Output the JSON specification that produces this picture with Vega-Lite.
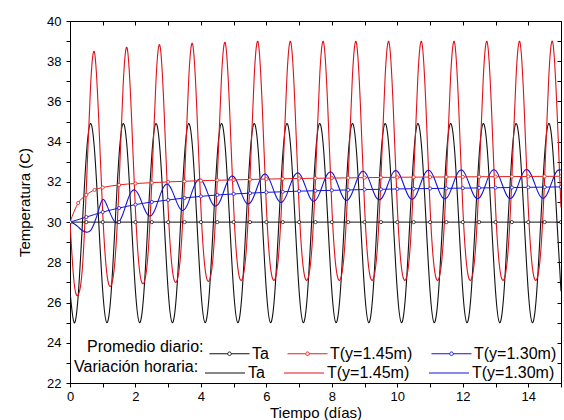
{
"$schema":"https://vega.github.io/schema/vega-lite/v6.json",
"width":491,"height":362,
"autosize":{"type":"none"},
"padding":{"left":70,"top":21,"right":3,"bottom":37},
"background":"white",
"config":{"view":{"stroke":"black","strokeWidth":1},"font":"Liberation Sans",
"axis":{"labelFont":"Liberation Sans","labelFontSize":13,"labelColor":"#000","titleFont":"Liberation Sans","titleFontSize":15,"titleFontWeight":"normal","titleColor":"#000","domainColor":"#000","tickColor":"#000","grid":false}},
"datasets":{
"hourly":[
{"t":0,"v":26.56,"s":"Ta"},{"t":0.125,"v":25.0,"s":"Ta"},{"t":0.25,"v":26.34,"s":"Ta"},{"t":0.375,"v":29.8,"s":"Ta"},{"t":0.5,"v":33.34,"s":"Ta"},{"t":0.625,"v":34.9,"s":"Ta"},{"t":0.75,"v":33.56,"s":"Ta"},{"t":0.875,"v":30.1,"s":"Ta"},
{"t":1,"v":26.56,"s":"Ta"},{"t":1.125,"v":25.0,"s":"Ta"},{"t":1.25,"v":26.34,"s":"Ta"},{"t":1.375,"v":29.8,"s":"Ta"},{"t":1.5,"v":33.34,"s":"Ta"},{"t":1.625,"v":34.9,"s":"Ta"},{"t":1.75,"v":33.56,"s":"Ta"},{"t":1.875,"v":30.1,"s":"Ta"},
{"t":2,"v":26.56,"s":"Ta"},{"t":2.125,"v":25.0,"s":"Ta"},{"t":2.25,"v":26.34,"s":"Ta"},{"t":2.375,"v":29.8,"s":"Ta"},{"t":2.5,"v":33.34,"s":"Ta"},{"t":2.625,"v":34.9,"s":"Ta"},{"t":2.75,"v":33.56,"s":"Ta"},{"t":2.875,"v":30.1,"s":"Ta"},
{"t":3,"v":26.56,"s":"Ta"},{"t":3.125,"v":25.0,"s":"Ta"},{"t":3.25,"v":26.34,"s":"Ta"},{"t":3.375,"v":29.8,"s":"Ta"},{"t":3.5,"v":33.34,"s":"Ta"},{"t":3.625,"v":34.9,"s":"Ta"},{"t":3.75,"v":33.56,"s":"Ta"},{"t":3.875,"v":30.1,"s":"Ta"},
{"t":4,"v":26.56,"s":"Ta"},{"t":4.125,"v":25.0,"s":"Ta"},{"t":4.25,"v":26.34,"s":"Ta"},{"t":4.375,"v":29.8,"s":"Ta"},{"t":4.5,"v":33.34,"s":"Ta"},{"t":4.625,"v":34.9,"s":"Ta"},{"t":4.75,"v":33.56,"s":"Ta"},{"t":4.875,"v":30.1,"s":"Ta"},
{"t":5,"v":26.56,"s":"Ta"},{"t":5.125,"v":25.0,"s":"Ta"},{"t":5.25,"v":26.34,"s":"Ta"},{"t":5.375,"v":29.8,"s":"Ta"},{"t":5.5,"v":33.34,"s":"Ta"},{"t":5.625,"v":34.9,"s":"Ta"},{"t":5.75,"v":33.56,"s":"Ta"},{"t":5.875,"v":30.1,"s":"Ta"},
{"t":6,"v":26.56,"s":"Ta"},{"t":6.125,"v":25.0,"s":"Ta"},{"t":6.25,"v":26.34,"s":"Ta"},{"t":6.375,"v":29.8,"s":"Ta"},{"t":6.5,"v":33.34,"s":"Ta"},{"t":6.625,"v":34.9,"s":"Ta"},{"t":6.75,"v":33.56,"s":"Ta"},{"t":6.875,"v":30.1,"s":"Ta"},
{"t":7,"v":26.56,"s":"Ta"},{"t":7.125,"v":25.0,"s":"Ta"},{"t":7.25,"v":26.34,"s":"Ta"},{"t":7.375,"v":29.8,"s":"Ta"},{"t":7.5,"v":33.34,"s":"Ta"},{"t":7.625,"v":34.9,"s":"Ta"},{"t":7.75,"v":33.56,"s":"Ta"},{"t":7.875,"v":30.1,"s":"Ta"},
{"t":8,"v":26.56,"s":"Ta"},{"t":8.125,"v":25.0,"s":"Ta"},{"t":8.25,"v":26.34,"s":"Ta"},{"t":8.375,"v":29.8,"s":"Ta"},{"t":8.5,"v":33.34,"s":"Ta"},{"t":8.625,"v":34.9,"s":"Ta"},{"t":8.75,"v":33.56,"s":"Ta"},{"t":8.875,"v":30.1,"s":"Ta"},
{"t":9,"v":26.56,"s":"Ta"},{"t":9.125,"v":25.0,"s":"Ta"},{"t":9.25,"v":26.34,"s":"Ta"},{"t":9.375,"v":29.8,"s":"Ta"},{"t":9.5,"v":33.34,"s":"Ta"},{"t":9.625,"v":34.9,"s":"Ta"},{"t":9.75,"v":33.56,"s":"Ta"},{"t":9.875,"v":30.1,"s":"Ta"},
{"t":10,"v":26.56,"s":"Ta"},{"t":10.125,"v":25.0,"s":"Ta"},{"t":10.25,"v":26.34,"s":"Ta"},{"t":10.375,"v":29.8,"s":"Ta"},{"t":10.5,"v":33.34,"s":"Ta"},{"t":10.625,"v":34.9,"s":"Ta"},{"t":10.75,"v":33.56,"s":"Ta"},{"t":10.875,"v":30.1,"s":"Ta"},
{"t":11,"v":26.56,"s":"Ta"},{"t":11.125,"v":25.0,"s":"Ta"},{"t":11.25,"v":26.34,"s":"Ta"},{"t":11.375,"v":29.8,"s":"Ta"},{"t":11.5,"v":33.34,"s":"Ta"},{"t":11.625,"v":34.9,"s":"Ta"},{"t":11.75,"v":33.56,"s":"Ta"},{"t":11.875,"v":30.1,"s":"Ta"},
{"t":12,"v":26.56,"s":"Ta"},{"t":12.125,"v":25.0,"s":"Ta"},{"t":12.25,"v":26.34,"s":"Ta"},{"t":12.375,"v":29.8,"s":"Ta"},{"t":12.5,"v":33.34,"s":"Ta"},{"t":12.625,"v":34.9,"s":"Ta"},{"t":12.75,"v":33.56,"s":"Ta"},{"t":12.875,"v":30.1,"s":"Ta"},
{"t":13,"v":26.56,"s":"Ta"},{"t":13.125,"v":25.0,"s":"Ta"},{"t":13.25,"v":26.34,"s":"Ta"},{"t":13.375,"v":29.8,"s":"Ta"},{"t":13.5,"v":33.34,"s":"Ta"},{"t":13.625,"v":34.9,"s":"Ta"},{"t":13.75,"v":33.56,"s":"Ta"},{"t":13.875,"v":30.1,"s":"Ta"},
{"t":14,"v":26.56,"s":"Ta"},{"t":14.125,"v":25.0,"s":"Ta"},{"t":14.25,"v":26.34,"s":"Ta"},{"t":14.375,"v":29.8,"s":"Ta"},{"t":14.5,"v":33.34,"s":"Ta"},{"t":14.625,"v":34.9,"s":"Ta"},{"t":14.75,"v":33.56,"s":"Ta"},{"t":14.875,"v":30.1,"s":"Ta"},
{"t":15,"v":26.56,"s":"Ta"},
{"t":0,"v":30.0,"s":"T(y=1.45m)"},{"t":0.125,"v":27.0,"s":"T(y=1.45m)"},{"t":0.25,"v":26.38,"s":"T(y=1.45m)"},{"t":0.375,"v":27.65,"s":"T(y=1.45m)"},{"t":0.5,"v":31.71,"s":"T(y=1.45m)"},{"t":0.625,"v":36.65,"s":"T(y=1.45m)"},{"t":0.75,"v":38.43,"s":"T(y=1.45m)"},{"t":0.875,"v":35.2,"s":"T(y=1.45m)"},
{"t":1,"v":30.43,"s":"T(y=1.45m)"},{"t":1.125,"v":27.45,"s":"T(y=1.45m)"},{"t":1.25,"v":26.83,"s":"T(y=1.45m)"},{"t":1.375,"v":28.1,"s":"T(y=1.45m)"},{"t":1.5,"v":31.91,"s":"T(y=1.45m)"},{"t":1.625,"v":36.85,"s":"T(y=1.45m)"},{"t":1.75,"v":38.63,"s":"T(y=1.45m)"},{"t":1.875,"v":35.4,"s":"T(y=1.45m)"},
{"t":2,"v":30.56,"s":"T(y=1.45m)"},{"t":2.125,"v":27.58,"s":"T(y=1.45m)"},{"t":2.25,"v":26.96,"s":"T(y=1.45m)"},{"t":2.375,"v":28.23,"s":"T(y=1.45m)"},{"t":2.5,"v":32.04,"s":"T(y=1.45m)"},{"t":2.625,"v":36.98,"s":"T(y=1.45m)"},{"t":2.75,"v":38.76,"s":"T(y=1.45m)"},{"t":2.875,"v":35.53,"s":"T(y=1.45m)"},
{"t":3,"v":30.63,"s":"T(y=1.45m)"},{"t":3.125,"v":27.65,"s":"T(y=1.45m)"},{"t":3.25,"v":27.03,"s":"T(y=1.45m)"},{"t":3.375,"v":28.3,"s":"T(y=1.45m)"},{"t":3.5,"v":32.11,"s":"T(y=1.45m)"},{"t":3.625,"v":37.05,"s":"T(y=1.45m)"},{"t":3.75,"v":38.83,"s":"T(y=1.45m)"},{"t":3.875,"v":35.6,"s":"T(y=1.45m)"},
{"t":4,"v":30.68,"s":"T(y=1.45m)"},{"t":4.125,"v":27.7,"s":"T(y=1.45m)"},{"t":4.25,"v":27.08,"s":"T(y=1.45m)"},{"t":4.375,"v":28.35,"s":"T(y=1.45m)"},{"t":4.5,"v":32.16,"s":"T(y=1.45m)"},{"t":4.625,"v":37.1,"s":"T(y=1.45m)"},{"t":4.75,"v":38.88,"s":"T(y=1.45m)"},{"t":4.875,"v":35.65,"s":"T(y=1.45m)"},
{"t":5,"v":30.73,"s":"T(y=1.45m)"},{"t":5.125,"v":27.75,"s":"T(y=1.45m)"},{"t":5.25,"v":27.13,"s":"T(y=1.45m)"},{"t":5.375,"v":28.4,"s":"T(y=1.45m)"},{"t":5.5,"v":32.21,"s":"T(y=1.45m)"},{"t":5.625,"v":37.15,"s":"T(y=1.45m)"},{"t":5.75,"v":38.93,"s":"T(y=1.45m)"},{"t":5.875,"v":35.7,"s":"T(y=1.45m)"},
{"t":6,"v":30.73,"s":"T(y=1.45m)"},{"t":6.125,"v":27.75,"s":"T(y=1.45m)"},{"t":6.25,"v":27.13,"s":"T(y=1.45m)"},{"t":6.375,"v":28.4,"s":"T(y=1.45m)"},{"t":6.5,"v":32.21,"s":"T(y=1.45m)"},{"t":6.625,"v":37.15,"s":"T(y=1.45m)"},{"t":6.75,"v":38.93,"s":"T(y=1.45m)"},{"t":6.875,"v":35.7,"s":"T(y=1.45m)"},
{"t":7,"v":30.73,"s":"T(y=1.45m)"},{"t":7.125,"v":27.75,"s":"T(y=1.45m)"},{"t":7.25,"v":27.13,"s":"T(y=1.45m)"},{"t":7.375,"v":28.4,"s":"T(y=1.45m)"},{"t":7.5,"v":32.21,"s":"T(y=1.45m)"},{"t":7.625,"v":37.15,"s":"T(y=1.45m)"},{"t":7.75,"v":38.93,"s":"T(y=1.45m)"},{"t":7.875,"v":35.7,"s":"T(y=1.45m)"},
{"t":8,"v":30.73,"s":"T(y=1.45m)"},{"t":8.125,"v":27.75,"s":"T(y=1.45m)"},{"t":8.25,"v":27.13,"s":"T(y=1.45m)"},{"t":8.375,"v":28.4,"s":"T(y=1.45m)"},{"t":8.5,"v":32.21,"s":"T(y=1.45m)"},{"t":8.625,"v":37.15,"s":"T(y=1.45m)"},{"t":8.75,"v":38.93,"s":"T(y=1.45m)"},{"t":8.875,"v":35.7,"s":"T(y=1.45m)"},
{"t":9,"v":30.73,"s":"T(y=1.45m)"},{"t":9.125,"v":27.75,"s":"T(y=1.45m)"},{"t":9.25,"v":27.13,"s":"T(y=1.45m)"},{"t":9.375,"v":28.4,"s":"T(y=1.45m)"},{"t":9.5,"v":32.21,"s":"T(y=1.45m)"},{"t":9.625,"v":37.15,"s":"T(y=1.45m)"},{"t":9.75,"v":38.93,"s":"T(y=1.45m)"},{"t":9.875,"v":35.7,"s":"T(y=1.45m)"},
{"t":10,"v":30.73,"s":"T(y=1.45m)"},{"t":10.125,"v":27.75,"s":"T(y=1.45m)"},{"t":10.25,"v":27.13,"s":"T(y=1.45m)"},{"t":10.375,"v":28.4,"s":"T(y=1.45m)"},{"t":10.5,"v":32.21,"s":"T(y=1.45m)"},{"t":10.625,"v":37.15,"s":"T(y=1.45m)"},{"t":10.75,"v":38.93,"s":"T(y=1.45m)"},{"t":10.875,"v":35.7,"s":"T(y=1.45m)"},
{"t":11,"v":30.73,"s":"T(y=1.45m)"},{"t":11.125,"v":27.75,"s":"T(y=1.45m)"},{"t":11.25,"v":27.13,"s":"T(y=1.45m)"},{"t":11.375,"v":28.4,"s":"T(y=1.45m)"},{"t":11.5,"v":32.21,"s":"T(y=1.45m)"},{"t":11.625,"v":37.15,"s":"T(y=1.45m)"},{"t":11.75,"v":38.93,"s":"T(y=1.45m)"},{"t":11.875,"v":35.7,"s":"T(y=1.45m)"},
{"t":12,"v":30.73,"s":"T(y=1.45m)"},{"t":12.125,"v":27.75,"s":"T(y=1.45m)"},{"t":12.25,"v":27.13,"s":"T(y=1.45m)"},{"t":12.375,"v":28.4,"s":"T(y=1.45m)"},{"t":12.5,"v":32.21,"s":"T(y=1.45m)"},{"t":12.625,"v":37.15,"s":"T(y=1.45m)"},{"t":12.75,"v":38.93,"s":"T(y=1.45m)"},{"t":12.875,"v":35.7,"s":"T(y=1.45m)"},
{"t":13,"v":30.73,"s":"T(y=1.45m)"},{"t":13.125,"v":27.75,"s":"T(y=1.45m)"},{"t":13.25,"v":27.13,"s":"T(y=1.45m)"},{"t":13.375,"v":28.4,"s":"T(y=1.45m)"},{"t":13.5,"v":32.21,"s":"T(y=1.45m)"},{"t":13.625,"v":37.15,"s":"T(y=1.45m)"},{"t":13.75,"v":38.93,"s":"T(y=1.45m)"},{"t":13.875,"v":35.7,"s":"T(y=1.45m)"},
{"t":14,"v":30.73,"s":"T(y=1.45m)"},{"t":14.125,"v":27.75,"s":"T(y=1.45m)"},{"t":14.25,"v":27.13,"s":"T(y=1.45m)"},{"t":14.375,"v":28.4,"s":"T(y=1.45m)"},{"t":14.5,"v":32.21,"s":"T(y=1.45m)"},{"t":14.625,"v":37.15,"s":"T(y=1.45m)"},{"t":14.75,"v":38.93,"s":"T(y=1.45m)"},{"t":14.875,"v":35.7,"s":"T(y=1.45m)"},
{"t":15,"v":30.73,"s":"T(y=1.45m)"},
{"t":0,"v":30.0,"s":"T(y=1.30m)"},{"t":0.125,"v":29.92,"s":"T(y=1.30m)"},{"t":0.25,"v":29.76,"s":"T(y=1.30m)"},{"t":0.375,"v":29.58,"s":"T(y=1.30m)"},{"t":0.5,"v":29.5,"s":"T(y=1.30m)"},{"t":0.625,"v":29.58,"s":"T(y=1.30m)"},{"t":0.75,"v":29.98,"s":"T(y=1.30m)"},{"t":0.875,"v":30.6,"s":"T(y=1.30m)"},
{"t":1,"v":31.12,"s":"T(y=1.30m)"},{"t":1.125,"v":30.84,"s":"T(y=1.30m)"},{"t":1.25,"v":30.36,"s":"T(y=1.30m)"},{"t":1.375,"v":30.0,"s":"T(y=1.30m)"},{"t":1.5,"v":30.02,"s":"T(y=1.30m)"},{"t":1.625,"v":30.44,"s":"T(y=1.30m)"},{"t":1.75,"v":31.05,"s":"T(y=1.30m)"},{"t":1.875,"v":31.51,"s":"T(y=1.30m)"},
{"t":2,"v":31.58,"s":"T(y=1.30m)"},{"t":2.125,"v":31.26,"s":"T(y=1.30m)"},{"t":2.25,"v":30.75,"s":"T(y=1.30m)"},{"t":2.375,"v":30.36,"s":"T(y=1.30m)"},{"t":2.5,"v":30.35,"s":"T(y=1.30m)"},{"t":2.625,"v":30.74,"s":"T(y=1.30m)"},{"t":2.75,"v":31.32,"s":"T(y=1.30m)"},{"t":2.875,"v":31.78,"s":"T(y=1.30m)"},
{"t":3,"v":31.87,"s":"T(y=1.30m)"},{"t":3.125,"v":31.54,"s":"T(y=1.30m)"},{"t":3.25,"v":31.03,"s":"T(y=1.30m)"},{"t":3.375,"v":30.64,"s":"T(y=1.30m)"},{"t":3.5,"v":30.63,"s":"T(y=1.30m)"},{"t":3.625,"v":31.02,"s":"T(y=1.30m)"},{"t":3.75,"v":31.6,"s":"T(y=1.30m)"},{"t":3.875,"v":32.04,"s":"T(y=1.30m)"},
{"t":4,"v":32.12,"s":"T(y=1.30m)"},{"t":4.125,"v":31.78,"s":"T(y=1.30m)"},{"t":4.25,"v":31.26,"s":"T(y=1.30m)"},{"t":4.375,"v":30.86,"s":"T(y=1.30m)"},{"t":4.5,"v":30.84,"s":"T(y=1.30m)"},{"t":4.625,"v":31.2,"s":"T(y=1.30m)"},{"t":4.75,"v":31.77,"s":"T(y=1.30m)"},{"t":4.875,"v":32.2,"s":"T(y=1.30m)"},
{"t":5,"v":32.27,"s":"T(y=1.30m)"},{"t":5.125,"v":31.92,"s":"T(y=1.30m)"},{"t":5.25,"v":31.38,"s":"T(y=1.30m)"},{"t":5.375,"v":30.97,"s":"T(y=1.30m)"},{"t":5.5,"v":30.95,"s":"T(y=1.30m)"},{"t":5.625,"v":31.31,"s":"T(y=1.30m)"},{"t":5.75,"v":31.87,"s":"T(y=1.30m)"},{"t":5.875,"v":32.3,"s":"T(y=1.30m)"},
{"t":6,"v":32.36,"s":"T(y=1.30m)"},{"t":6.125,"v":32.0,"s":"T(y=1.30m)"},{"t":6.25,"v":31.46,"s":"T(y=1.30m)"},{"t":6.375,"v":31.05,"s":"T(y=1.30m)"},{"t":6.5,"v":31.02,"s":"T(y=1.30m)"},{"t":6.625,"v":31.38,"s":"T(y=1.30m)"},{"t":6.75,"v":31.94,"s":"T(y=1.30m)"},{"t":6.875,"v":32.36,"s":"T(y=1.30m)"},
{"t":7,"v":32.42,"s":"T(y=1.30m)"},{"t":7.125,"v":32.06,"s":"T(y=1.30m)"},{"t":7.25,"v":31.52,"s":"T(y=1.30m)"},{"t":7.375,"v":31.1,"s":"T(y=1.30m)"},{"t":7.5,"v":31.08,"s":"T(y=1.30m)"},{"t":7.625,"v":31.43,"s":"T(y=1.30m)"},{"t":7.75,"v":31.99,"s":"T(y=1.30m)"},{"t":7.875,"v":32.41,"s":"T(y=1.30m)"},
{"t":8,"v":32.47,"s":"T(y=1.30m)"},{"t":8.125,"v":32.11,"s":"T(y=1.30m)"},{"t":8.25,"v":31.57,"s":"T(y=1.30m)"},{"t":8.375,"v":31.15,"s":"T(y=1.30m)"},{"t":8.5,"v":31.12,"s":"T(y=1.30m)"},{"t":8.625,"v":31.47,"s":"T(y=1.30m)"},{"t":8.75,"v":32.03,"s":"T(y=1.30m)"},{"t":8.875,"v":32.45,"s":"T(y=1.30m)"},
{"t":9,"v":32.5,"s":"T(y=1.30m)"},{"t":9.125,"v":32.15,"s":"T(y=1.30m)"},{"t":9.25,"v":31.6,"s":"T(y=1.30m)"},{"t":9.375,"v":31.18,"s":"T(y=1.30m)"},{"t":9.5,"v":31.15,"s":"T(y=1.30m)"},{"t":9.625,"v":31.5,"s":"T(y=1.30m)"},{"t":9.75,"v":32.05,"s":"T(y=1.30m)"},{"t":9.875,"v":32.48,"s":"T(y=1.30m)"},
{"t":10,"v":32.53,"s":"T(y=1.30m)"},{"t":10.125,"v":32.17,"s":"T(y=1.30m)"},{"t":10.25,"v":31.62,"s":"T(y=1.30m)"},{"t":10.375,"v":31.21,"s":"T(y=1.30m)"},{"t":10.5,"v":31.17,"s":"T(y=1.30m)"},{"t":10.625,"v":31.52,"s":"T(y=1.30m)"},{"t":10.75,"v":32.08,"s":"T(y=1.30m)"},{"t":10.875,"v":32.5,"s":"T(y=1.30m)"},
{"t":11,"v":32.55,"s":"T(y=1.30m)"},{"t":11.125,"v":32.19,"s":"T(y=1.30m)"},{"t":11.25,"v":31.64,"s":"T(y=1.30m)"},{"t":11.375,"v":31.23,"s":"T(y=1.30m)"},{"t":11.5,"v":31.19,"s":"T(y=1.30m)"},{"t":11.625,"v":31.54,"s":"T(y=1.30m)"},{"t":11.75,"v":32.1,"s":"T(y=1.30m)"},{"t":11.875,"v":32.52,"s":"T(y=1.30m)"},
{"t":12,"v":32.56,"s":"T(y=1.30m)"},{"t":12.125,"v":32.2,"s":"T(y=1.30m)"},{"t":12.25,"v":31.66,"s":"T(y=1.30m)"},{"t":12.375,"v":31.24,"s":"T(y=1.30m)"},{"t":12.5,"v":31.2,"s":"T(y=1.30m)"},{"t":12.625,"v":31.55,"s":"T(y=1.30m)"},{"t":12.75,"v":32.11,"s":"T(y=1.30m)"},{"t":12.875,"v":32.53,"s":"T(y=1.30m)"},
{"t":13,"v":32.57,"s":"T(y=1.30m)"},{"t":13.125,"v":32.21,"s":"T(y=1.30m)"},{"t":13.25,"v":31.67,"s":"T(y=1.30m)"},{"t":13.375,"v":31.25,"s":"T(y=1.30m)"},{"t":13.5,"v":31.21,"s":"T(y=1.30m)"},{"t":13.625,"v":31.56,"s":"T(y=1.30m)"},{"t":13.75,"v":32.12,"s":"T(y=1.30m)"},{"t":13.875,"v":32.54,"s":"T(y=1.30m)"},
{"t":14,"v":32.58,"s":"T(y=1.30m)"},{"t":14.125,"v":32.22,"s":"T(y=1.30m)"},{"t":14.25,"v":31.68,"s":"T(y=1.30m)"},{"t":14.375,"v":31.26,"s":"T(y=1.30m)"},{"t":14.5,"v":31.22,"s":"T(y=1.30m)"},{"t":14.625,"v":31.57,"s":"T(y=1.30m)"},{"t":14.75,"v":32.12,"s":"T(y=1.30m)"},{"t":14.875,"v":32.54,"s":"T(y=1.30m)"},
{"t":15,"v":32.59,"s":"T(y=1.30m)"}
],
"avg":[
{"t":0,"v":30,"serie":"Ta "},{"t":0.5,"v":30,"serie":"Ta "},{"t":1,"v":30,"serie":"Ta "},{"t":1.5,"v":30,"serie":"Ta "},{"t":2,"v":30,"serie":"Ta "},{"t":2.5,"v":30,"serie":"Ta "},{"t":3,"v":30,"serie":"Ta "},{"t":3.5,"v":30,"serie":"Ta "},{"t":4,"v":30,"serie":"Ta "},{"t":4.5,"v":30,"serie":"Ta "},{"t":5,"v":30,"serie":"Ta "},{"t":5.5,"v":30,"serie":"Ta "},{"t":6,"v":30,"serie":"Ta "},{"t":6.5,"v":30,"serie":"Ta "},{"t":7,"v":30,"serie":"Ta "},{"t":7.5,"v":30,"serie":"Ta "},{"t":8,"v":30,"serie":"Ta "},{"t":8.5,"v":30,"serie":"Ta "},{"t":9,"v":30,"serie":"Ta "},{"t":9.5,"v":30,"serie":"Ta "},{"t":10,"v":30,"serie":"Ta "},{"t":10.5,"v":30,"serie":"Ta "},{"t":11,"v":30,"serie":"Ta "},{"t":11.5,"v":30,"serie":"Ta "},{"t":12,"v":30,"serie":"Ta "},{"t":12.5,"v":30,"serie":"Ta "},{"t":13,"v":30,"serie":"Ta "},{"t":13.5,"v":30,"serie":"Ta "},{"t":14,"v":30,"serie":"Ta "},{"t":14.5,"v":30,"serie":"Ta "},{"t":15,"v":30,"serie":"Ta "},
{"t":0,"v":30,"serie":"T(y=1.45m) "},{"t":0.25,"v":30.95,"serie":"T(y=1.45m) "},{"t":0.5,"v":31.35,"serie":"T(y=1.45m) "},{"t":0.75,"v":31.6,"serie":"T(y=1.45m) "},{"t":1,"v":31.72,"serie":"T(y=1.45m) "},{"t":1.5,"v":31.85,"serie":"T(y=1.45m) "},{"t":2,"v":31.92,"serie":"T(y=1.45m) "},{"t":2.5,"v":31.96,"serie":"T(y=1.45m) "},{"t":3,"v":32.0,"serie":"T(y=1.45m) "},{"t":3.5,"v":32.03,"serie":"T(y=1.45m) "},{"t":4,"v":32.06,"serie":"T(y=1.45m) "},{"t":4.5,"v":32.08,"serie":"T(y=1.45m) "},{"t":5,"v":32.1,"serie":"T(y=1.45m) "},{"t":5.5,"v":32.12,"serie":"T(y=1.45m) "},{"t":6,"v":32.14,"serie":"T(y=1.45m) "},{"t":6.5,"v":32.155,"serie":"T(y=1.45m) "},{"t":7,"v":32.17,"serie":"T(y=1.45m) "},{"t":7.5,"v":32.18,"serie":"T(y=1.45m) "},{"t":8,"v":32.19,"serie":"T(y=1.45m) "},{"t":8.5,"v":32.2,"serie":"T(y=1.45m) "},{"t":9,"v":32.21,"serie":"T(y=1.45m) "},{"t":9.5,"v":32.22,"serie":"T(y=1.45m) "},{"t":10,"v":32.23,"serie":"T(y=1.45m) "},{"t":10.5,"v":32.235,"serie":"T(y=1.45m) "},{"t":11,"v":32.24,"serie":"T(y=1.45m) "},{"t":11.5,"v":32.245,"serie":"T(y=1.45m) "},{"t":12,"v":32.25,"serie":"T(y=1.45m) "},{"t":12.5,"v":32.255,"serie":"T(y=1.45m) "},{"t":13,"v":32.26,"serie":"T(y=1.45m) "},{"t":13.5,"v":32.265,"serie":"T(y=1.45m) "},{"t":14,"v":32.27,"serie":"T(y=1.45m) "},{"t":14.5,"v":32.275,"serie":"T(y=1.45m) "},{"t":15,"v":32.28,"serie":"T(y=1.45m) "},
{"t":0,"v":30,"serie":"T(y=1.30m) "},{"t":0.5,"v":30.25,"serie":"T(y=1.30m) "},{"t":1,"v":30.5,"serie":"T(y=1.30m) "},{"t":1.5,"v":30.7,"serie":"T(y=1.30m) "},{"t":2,"v":30.87,"serie":"T(y=1.30m) "},{"t":2.5,"v":31.0,"serie":"T(y=1.30m) "},{"t":3,"v":31.1,"serie":"T(y=1.30m) "},{"t":3.5,"v":31.2,"serie":"T(y=1.30m) "},{"t":4,"v":31.28,"serie":"T(y=1.30m) "},{"t":4.5,"v":31.35,"serie":"T(y=1.30m) "},{"t":5,"v":31.4,"serie":"T(y=1.30m) "},{"t":5.5,"v":31.44,"serie":"T(y=1.30m) "},{"t":6,"v":31.48,"serie":"T(y=1.30m) "},{"t":6.5,"v":31.51,"serie":"T(y=1.30m) "},{"t":7,"v":31.54,"serie":"T(y=1.30m) "},{"t":7.5,"v":31.56,"serie":"T(y=1.30m) "},{"t":8,"v":31.58,"serie":"T(y=1.30m) "},{"t":8.5,"v":31.6,"serie":"T(y=1.30m) "},{"t":9,"v":31.62,"serie":"T(y=1.30m) "},{"t":9.5,"v":31.63,"serie":"T(y=1.30m) "},{"t":10,"v":31.65,"serie":"T(y=1.30m) "},{"t":10.5,"v":31.66,"serie":"T(y=1.30m) "},{"t":11,"v":31.67,"serie":"T(y=1.30m) "},{"t":11.5,"v":31.68,"serie":"T(y=1.30m) "},{"t":12,"v":31.69,"serie":"T(y=1.30m) "},{"t":12.5,"v":31.7,"serie":"T(y=1.30m) "},{"t":13,"v":31.71,"serie":"T(y=1.30m) "},{"t":13.5,"v":31.72,"serie":"T(y=1.30m) "},{"t":14,"v":31.73,"serie":"T(y=1.30m) "},{"t":14.5,"v":31.74,"serie":"T(y=1.30m) "},{"t":15,"v":31.75,"serie":"T(y=1.30m) "}
]},
"layer":[
{"data":{"name":"hourly"},
 "mark":{"type":"line","interpolate":"natural","strokeWidth":1.1,"clip":true},
 "encoding":{
  "x":{"field":"t","type":"quantitative","scale":{"domain":[0,15],"nice":false,"zero":false},
   "axis":{"orient":"bottom","values":[0,1,2,3,4,5,6,7,8,9,10,11,12,13,14,15],"labelExpr":"datum.value % 2 === 0 ? datum.label : ''","title":"Tiempo (días)","tickSize":4,"labelPadding":3,"titlePadding":2,"labelFlush":false}},
  "y":{"field":"v","type":"quantitative","scale":{"domain":[22,40],"nice":false,"zero":false},
   "axis":{"orient":"left","values":[22,23,24,25,26,27,28,29,30,31,32,33,34,35,36,37,38,39,40],"labelExpr":"datum.value % 2 === 0 ? datum.label : ''","title":"Temperatura (C)","tickSize":4,"labelPadding":5,"titlePadding":14,"labelFlush":false}},
  "color":{"field":"s","type":"nominal","scale":{"domain":["Ta","T(y=1.45m)","T(y=1.30m)"],"range":["#111111","#e0101a","#1414d8"]},
   "legend":{"title":"Variación horaria:","orient":"none","legendX":4,"legendY":331,"direction":"horizontal","columns":3,"titleOrient":"left","titleFont":"Liberation Sans","titleFontSize":16,"titleFontWeight":"normal","titleColor":"#000","titlePadding":5,"titleAnchor":"middle","titleBaseline":"middle","labelFont":"Liberation Sans","labelFontSize":16,"labelColor":"#000","labelOffset":2,"columnPadding":16,"padding":0,"symbolType":"stroke","symbolSize":1600,"symbolStrokeWidth":1.2}}
 }},
{"data":{"name":"avg"},
 "mark":{"type":"line","interpolate":"monotone","strokeWidth":1,"clip":true},
 "encoding":{
  "x":{"field":"t","type":"quantitative","axis":{"orient":"top","values":[0,1,2,3,4,5,6,7,8,9,10,11,12,13,14,15],"labels":false,"title":null,"tickSize":-4,"domain":false}},
  "y":{"field":"v","type":"quantitative","axis":{"orient":"right","values":[22,23,24,25,26,27,28,29,30,31,32,33,34,35,36,37,38,39,40],"labels":false,"title":null,"tickSize":-4,"domain":false}},
  "stroke":{"field":"serie","type":"nominal","scale":{"domain":["Ta ","T(y=1.45m) ","T(y=1.30m) "],"range":["#111111","#e8201a","#1414d8"]},
   "legend":{"title":"Promedio diario:","orient":"none","legendX":17,"legendY":312,"direction":"horizontal","columns":3,"titleOrient":"left","titleFont":"Liberation Sans","titleFontSize":16,"titleFontWeight":"normal","titleColor":"#000","titlePadding":5,"titleAnchor":"middle","titleBaseline":"middle","labelFont":"Liberation Sans","labelFontSize":16,"labelColor":"#000","labelOffset":2,"columnPadding":16,"padding":0,"symbolType":"M-1,0H-0.09M0.09,0H1M0.09,0A0.09,0.09,0,1,1,-0.09,0A0.09,0.09,0,1,1,0.09,0","symbolSize":1600,"symbolStrokeWidth":1,"symbolFillColor":"white"}}
 }},
{"data":{"name":"avg"},
 "mark":{"type":"point","shape":"circle","size":10,"filled":false,"fill":"white","fillOpacity":1,"strokeWidth":0.8,"opacity":1,"clip":true},
 "encoding":{
  "x":{"field":"t","type":"quantitative","axis":null},
  "y":{"field":"v","type":"quantitative","axis":null},
  "stroke":{"field":"serie","type":"nominal"}
 }}
],
"resolve":{"axis":{"x":"independent","y":"independent"}}
}
